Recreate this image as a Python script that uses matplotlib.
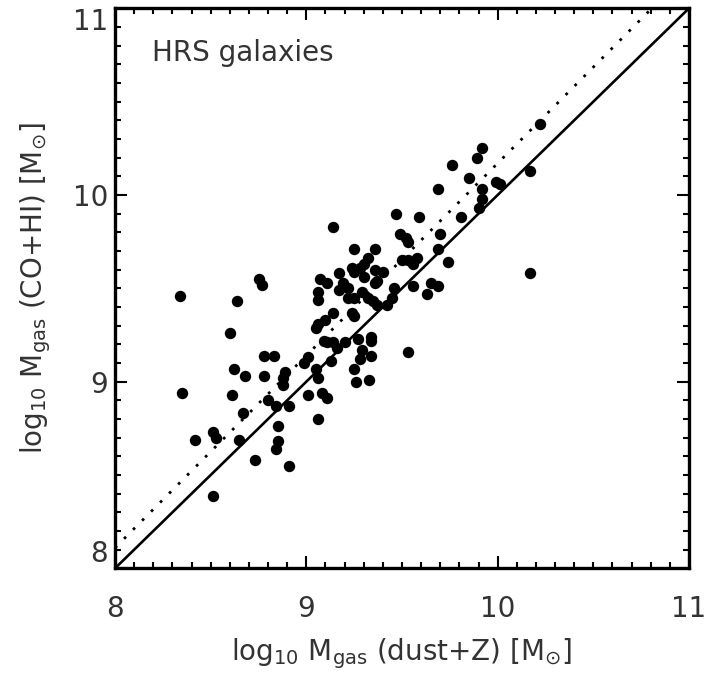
import matplotlib
matplotlib.use("Agg")
import matplotlib.pyplot as plt
import numpy as np

plt.rcParams['font.family'] = ['DejaVu Sans']
plt.rcParams['mathtext.default'] = 'regular'

# log10 Mgas (dust+Z)
x_dust = [
    8.34, 8.75, 8.77, 8.64, 8.60, 8.78, 8.83, 8.62, 8.68, 8.78,
    8.89, 8.88, 8.88, 8.35, 8.61, 8.80, 8.84, 8.91, 8.67, 8.51,
    8.53, 8.42, 8.65, 8.85, 8.85, 8.84, 8.73, 8.91, 8.51, 9.01,
    9.08, 9.11, 9.06, 9.14, 9.24, 9.25, 9.05, 9.06, 9.10, 9.09,
    9.11, 9.14, 9.20, 9.27, 9.34, 9.34, 9.16, 9.29, 9.01, 8.99,
    9.13, 9.28, 9.34, 9.05, 9.06, 9.25, 9.26, 9.33, 9.53, 9.14,
    9.47, 9.59, 9.49, 9.52, 9.53, 9.25, 9.36, 9.32, 9.30, 9.28,
    9.24, 9.25, 9.17, 9.50, 9.53, 9.55, 9.36, 9.40, 9.30, 9.07,
    9.11, 9.19, 9.22, 9.36, 9.37, 9.06, 9.06, 9.17, 9.22, 9.25,
    9.29, 9.32, 9.35, 9.37, 9.46, 9.45, 9.42, 9.56, 10.22, 9.92,
    9.89, 9.76, 9.85, 9.99, 10.01, 10.17, 9.92, 9.92, 9.69, 9.90,
    9.81, 9.70, 9.69, 9.58, 9.56, 9.74, 10.17, 9.65, 9.69, 9.63,
]
# log10 Mgas (CO+HI)
y_cohi = [
    9.46, 9.55, 9.52, 9.43, 9.26, 9.14, 9.14, 9.07, 9.03, 9.03,
    9.05, 9.02, 8.98, 8.94, 8.93, 8.90, 8.87, 8.87, 8.83, 8.73,
    8.70, 8.69, 8.69, 8.76, 8.68, 8.64, 8.58, 8.55, 8.39, 8.93,
    8.94, 8.91, 8.80, 9.37, 9.37, 9.35, 9.29, 9.31, 9.33, 9.22,
    9.21, 9.21, 9.21, 9.23, 9.24, 9.22, 9.18, 9.17, 9.13, 9.10,
    9.11, 9.12, 9.14, 9.07, 9.02, 9.07, 9.00, 9.01, 9.16, 9.83,
    9.90, 9.88, 9.79, 9.77, 9.75, 9.71, 9.71, 9.66, 9.63, 9.61,
    9.61, 9.59, 9.58, 9.65, 9.65, 9.64, 9.60, 9.59, 9.56, 9.55,
    9.53, 9.53, 9.50, 9.53, 9.54, 9.48, 9.44, 9.49, 9.45, 9.45,
    9.48, 9.45, 9.43, 9.41, 9.50, 9.45, 9.41, 9.51, 10.38, 10.25,
    10.20, 10.16, 10.09, 10.07, 10.06, 10.13, 10.03, 9.98, 10.03, 9.93,
    9.88, 9.79, 9.71, 9.66, 9.63, 9.64, 9.58, 9.53, 9.51, 9.47,
]

axis_range = [8, 11]
fit_slope = 1.03
fit_intercept = -0.13
major_ticks = [8, 9, 10, 11]

fig = plt.figure(figsize=(7.06, 6.75), dpi=100)
ax = fig.add_axes([0.1629, 0.158, 0.8130, 0.8297])

ax.plot(x_dust, y_cohi, 'o', color='black', markersize=8.2, markeredgewidth=0, zorder=3)

xl = np.array(axis_range, dtype=float)
ax.plot(xl, xl, '-', color='black', lw=1.9, zorder=2)
ax.plot(xl, fit_slope * xl + fit_intercept, color='black', lw=2.0,
        linestyle=(0, (1.0, 3.6)), zorder=2)

ax.set_xlim(axis_range)
ax.set_ylim(axis_range)
ax.set_xticks(major_ticks)
ax.set_yticks(major_ticks)
ax.set_xticks(np.arange(8, 11.001, 0.1), minor=True)
ax.set_yticks(np.arange(8, 11.001, 0.1), minor=True)
ax.set_xticklabels([str(t) for t in major_ticks])
ax.set_yticklabels([str(t) for t in major_ticks])

txtc = '#333333'
ax.tick_params(which='both', direction='in', top=True, right=True, width=1.5, color='black')
ax.tick_params(which='major', length=8.6)
ax.tick_params(which='minor', length=4.3)
ax.tick_params(axis='x', which='major', labelsize=20, pad=19, labelcolor=txtc)
ax.tick_params(axis='y', which='major', labelsize=20, pad=5, labelcolor=txtc)
for sp in ax.spines.values():
    sp.set_linewidth(2.4)

# IDL-style: end labels on the y axis kept inside the axis range
ylabels = ax.get_yticklabels()
ylabels[0].set_va('bottom')
ylabels[-1].set_va('top')

ax.set_xlabel(r'log$_{10}$ M$_{gas}$ (dust+Z) [M$_{\odot}$]', fontsize=20, color=txtc, labelpad=10)
ax.set_ylabel(r'log$_{10}$ M$_{gas}$ (CO+HI) [M$_{\odot}$]', fontsize=20, color=txtc, labelpad=14)

ax.text(0.065, 0.945, 'HRS galaxies', transform=ax.transAxes, fontsize=20,
        color=txtc, ha='left', va='top')

fig.savefig('out.png', dpi=100)
